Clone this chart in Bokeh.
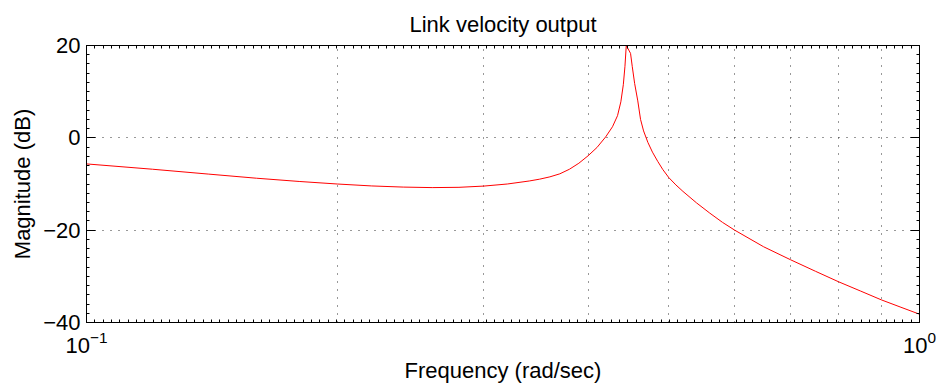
from bokeh.plotting import figure
from bokeh.models import (LogAxis, LinearAxis, FixedTicker,
                          CustomJSTickFormatter, LogTickFormatter, Range1d)
from bokeh.embed import file_html
from bokeh.resources import INLINE

# Data
freq = [0.1, 0.12, 0.14, 0.16, 0.18, 0.2, 0.22, 0.24, 0.26, 0.28, 0.30,
        0.32, 0.34, 0.35, 0.36, 0.37, 0.38, 0.39, 0.40, 0.41, 0.42, 0.428, 0.434,
        0.438, 0.441, 0.443, 0.4446, 0.4499, 0.452, 0.455, 0.459, 0.4625,
        0.4664, 0.472, 0.478, 0.485, 0.492, 0.50, 0.51, 0.52, 0.54, 0.56,
        0.58, 0.60, 0.65, 0.70, 0.75, 0.80, 0.85, 0.90, 0.95, 1.0]
mag_db = [-5.65, -6.8, -7.85, -8.75, -9.45, -10.0, -10.42, -10.67, -10.78, -10.72, -10.45,
          -10.0, -9.35, -8.95, -8.45, -7.8, -6.8, -5.5, -3.9, -2.1, 0.2, 2.4, 4.8,
          7.8, 11.5, 15.5, 20.0, 18.3, 15.5, 11.8, 8.0, 4.0,
          1.5, -1.0, -3.1, -5.1, -6.9, -8.6, -10.2, -11.6, -14.1, -16.3,
          -18.3, -20.0, -23.6, -26.4, -28.9, -31.2, -33.2, -35.1, -36.7, -38.2]
x_major = [0.1, 1.0]
x_grid = [0.2, 0.3, 0.4, 0.5, 0.6, 0.7, 0.8, 0.9]
y_ticks = [-40, -20, 0, 20]

FONT = "Liberation Sans"
FS = "22px"

p = figure(width=952, height=387, x_axis_type="log",
           x_range=Range1d(0.1, 1.0), y_range=Range1d(-40, 20),
           output_backend="svg", toolbar_location=None,
           min_border_left=86, min_border_right=33,
           min_border_top=45, min_border_bottom=65,
           title="Link velocity output")

p.title.align = "center"
p.title.text_font = FONT
p.title.text_font_size = FS
p.title.text_font_style = "normal"
p.title.text_color = "black"
p.title.standoff = 18

p.outline_line_color = "black"
p.outline_line_width = 1
p.background_fill_color = "white"
p.border_fill_color = "white"

p.line(freq, mag_db, line_color="#ff0000", line_width=1)

# minor tick marks along the log axes (evenly spaced in the picture)
x_minor = [10 ** (-1 + k / 100) for k in range(1, 100)]


def x_ticker():
    return FixedTicker(ticks=x_major, minor_ticks=x_minor)


def y_ticker():
    return FixedTicker(ticks=y_ticks,
                       minor_ticks=[v for v in range(-40, 21, 2) if v not in y_ticks])


xa = p.xaxis[0]
xa.ticker = x_ticker()
xa.formatter = LogTickFormatter()
xa.axis_label = "Frequency (rad/sec)"
ya = p.yaxis[0]
ya.ticker = y_ticker()
ya.axis_label = "Magnitude (dB)"

for ax in (xa, ya):
    ax.axis_line_color = "black"
    ax.major_tick_line_color = "black"
    ax.minor_tick_line_color = "black"
    ax.major_tick_in = 9
    ax.major_tick_out = 0
    ax.minor_tick_in = 3
    ax.minor_tick_out = 0
    ax.major_label_text_font = FONT
    ax.major_label_text_font_size = FS
    ax.major_label_text_color = "black"
    ax.axis_label_text_font = FONT
    ax.axis_label_text_font_size = FS
    ax.axis_label_text_font_style = "normal"
    ax.axis_label_text_color = "black"
    ax.major_label_standoff = 6

xa.major_label_standoff = 8
xa.axis_label_standoff = 2
ya.axis_label_standoff = 5

blank = CustomJSTickFormatter(code="return ''")
top = LogAxis(ticker=x_ticker(), formatter=blank)
right = LinearAxis(ticker=y_ticker(), formatter=blank)
for ax in (top, right):
    ax.axis_line_color = "black"
    ax.major_tick_line_color = "black"
    ax.minor_tick_line_color = "black"
    ax.major_tick_in = 9
    ax.major_tick_out = 0
    ax.minor_tick_in = 3
    ax.minor_tick_out = 0
    ax.major_label_standoff = 0
    ax.major_label_text_font_size = "0px"
    ax.axis_label_standoff = 0
p.add_layout(top, "above")
p.add_layout(right, "right")

# grids
xg = p.xgrid[0]
xg.ticker = FixedTicker(ticks=x_grid)
xg.grid_line_color = "#333333"
xg.grid_line_dash = "1 7"
yg = p.ygrid[0]
yg.ticker = FixedTicker(ticks=[-20, 0])
yg.grid_line_color = "#333333"
yg.grid_line_dash = "1 7"

open("out.html", "w").write(file_html(p, INLINE))
